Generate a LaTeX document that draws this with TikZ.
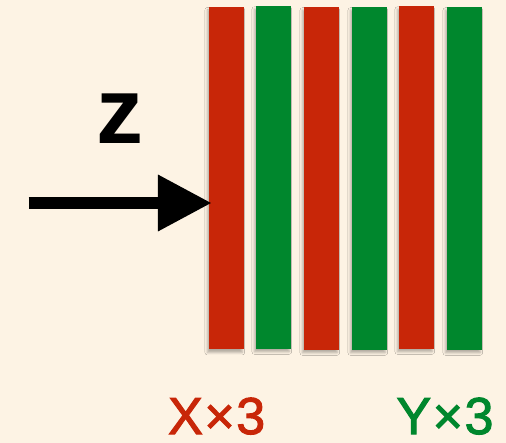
\documentclass[tikz,border=0pt]{standalone}
\usepackage{fontspec}
\setmainfont{Liberation Sans}
\newfontfamily\countfont[FakeBold=2, LetterSpace=3]{Liberation Sans}
\usetikzlibrary{arrows.meta,shadows.blur}
\definecolor{paper}{RGB}{253,243,228}
\definecolor{xred}{RGB}{200,38,8}
\definecolor{ygreen}{RGB}{0,135,45}
\tikzset{
  bar/.style={draw=none, inner sep=0pt, outer sep=0pt, minimum width=34.7pt,
    minimum height=342.5pt,
    blur shadow={shadow xshift=-1.5pt, shadow yshift=-3pt, shadow blur radius=2.5pt, shadow opacity=30}},
  label/.style={font=\countfont\fontsize{52}{52}\selectfont, anchor=base, inner sep=0pt},
  pointer/.style={line width=12.7pt, shorten >=-3pt, -{Triangle[length=54pt, width=53pt]}}
}
\begin{document}
\begin{tikzpicture}[x=1pt, y=-1pt]
  % page and background
  \fill[paper] (0,0) rectangle (506,443);
  \useasboundingbox (0,0) rectangle (506,443);
  % alternating layers
  \node[bar, fill=xred]   (b1) at (226.3,178.2) {};
  \node[bar, fill=ygreen] (b2) at (273.3,177.5) {};
  \node[bar, fill=xred]   (b3) at (321.3,178.5) {};
  \node[bar, fill=ygreen] (b4) at (369.3,178.5) {};
  \node[bar, fill=xred]   (b5) at (416.3,177.5) {};
  \node[bar, fill=ygreen] (b6) at (464.3,178.5) {};
  % incoming direction
  \coordinate (src) at (28.7,203);
  \draw[pointer] (src) -- (src -| b1.west);
  \node[font=\fontsize{94}{94}\selectfont\bfseries, anchor=base, inner sep=0pt] (z) at (119.7,144) {z};
  % layer counts
  \node[label, text=xred]   (xl) at (216.7,434) {X×3};
  \node[label, text=ygreen] (yl) at (445,434) {Y×3};
\end{tikzpicture}
\end{document}
